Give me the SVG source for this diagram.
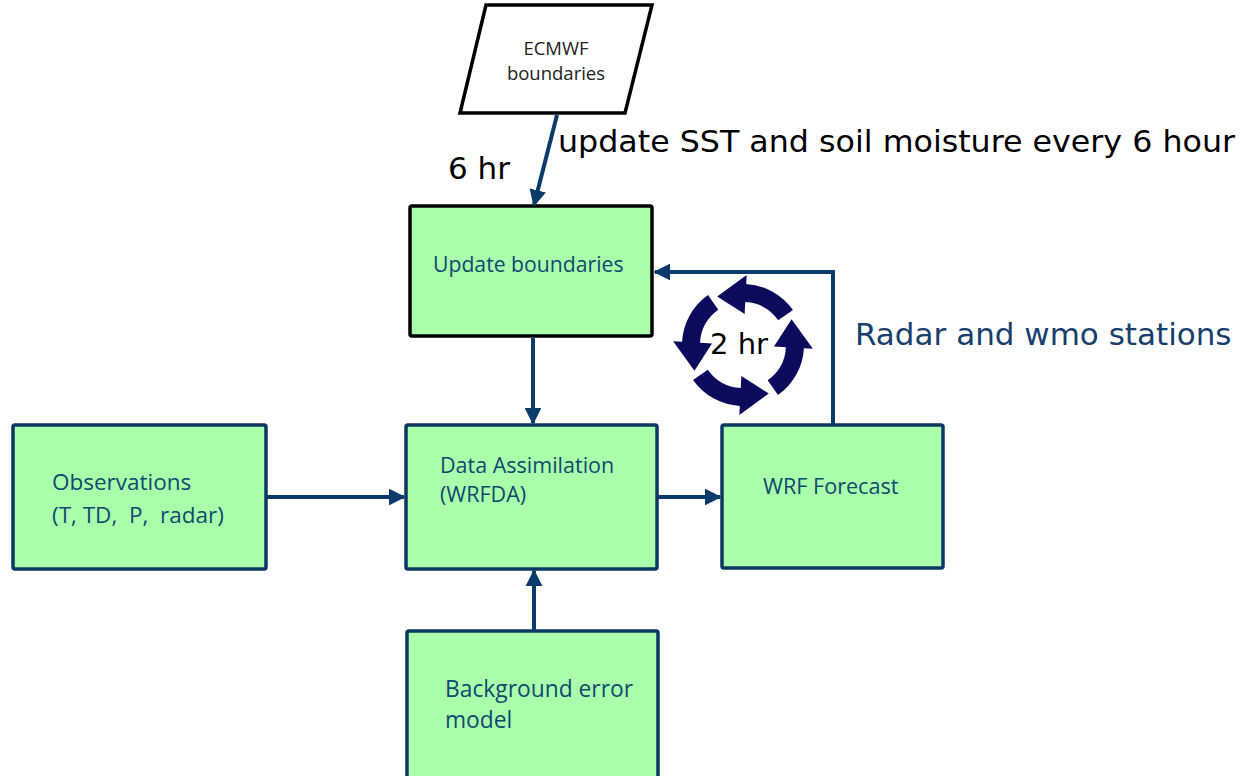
<svg xmlns="http://www.w3.org/2000/svg" xmlns:xlink="http://www.w3.org/1999/xlink" width="1247" height="776" viewBox="0 0 1247 776">
<style>
.box{fill:#aaffaa;stroke:#0c3763;stroke-width:3.5;}
.boxk{fill:#aaffaa;stroke:#000;stroke-width:3.5;}
.bt{font-family:"Open Sans","Noto Sans",sans-serif;fill:#104a70;}
.big{font-family:"DejaVu Sans",sans-serif;font-size:31px;}
.con{stroke:#0a3b6b;stroke-width:4;fill:none;}
</style>
<defs>
<marker id="ah" viewBox="0 0 10 10" refX="9" refY="5" markerWidth="4.2" markerHeight="4.2" orient="auto" markerUnits="strokeWidth">
<path d="M0,0 L10,5 L0,10 Z" fill="#0a3b6b"/>
</marker>
<path id="carrow" fill="#0b0b5e" d="M777.99,394.97 A61,61 0 0 0 803.92,348.19 L812.90,348.66 L791.56,319.18 L773.96,346.62 L785.94,347.25 A43,43 0 0 1 767.66,380.23 Z"/>
</defs>

<g id="ecmwf">
<polygon points="486,5 652,5 625,113 460,113" fill="#fff" stroke="#000" stroke-width="3.5" stroke-linejoin="miter"/>
<text x="556" y="55" text-anchor="middle" font-family="Open Sans, sans-serif" font-size="18.5" fill="#222">ECMWF</text>
<text x="556" y="80" text-anchor="middle" font-family="Open Sans, sans-serif" font-size="18.5" fill="#222">boundaries</text>
</g>

<g id="update">
<rect class="boxk" x="410" y="206" width="242" height="130" rx="2"/>
<text class="bt" x="433" y="272" font-size="21.2">Update boundaries</text>
</g>

<g id="da">
<rect class="box" x="406" y="425" width="251" height="144" rx="2"/>
<text class="bt" x="440" y="473" font-size="21.5">Data Assimilation</text>
<text class="bt" x="440" y="502" font-size="21.5">(WRFDA)</text>
</g>

<g id="obs">
<rect class="box" x="13" y="425" width="253" height="144" rx="2"/>
<text class="bt" x="52" y="490" font-size="22.5">Observations</text>
<text class="bt" x="52" y="523" font-size="22.5" xml:space="preserve">(T, TD,  P,  radar)</text>
</g>

<g id="wrf">
<rect class="box" x="722" y="425" width="221" height="143" rx="2"/>
<text class="bt" x="763" y="494" font-size="21.6">WRF Forecast</text>
</g>

<g id="bg">
<rect class="box" x="407" y="631" width="251" height="150" rx="2"/>
<text class="bt" x="445" y="697" font-size="22.8">Background error</text>
<text class="bt" x="445" y="728" font-size="22.8">model</text>
</g>

<g id="connectors">
<line class="con" x1="557" y1="115" x2="534" y2="205" marker-end="url(#ah)"/>
<line class="con" x1="533" y1="338" x2="533" y2="423" marker-end="url(#ah)"/>
<line class="con" x1="267" y1="497" x2="404" y2="497" marker-end="url(#ah)"/>
<line class="con" x1="658" y1="497" x2="720" y2="497" marker-end="url(#ah)"/>
<line class="con" x1="534" y1="630" x2="534" y2="571" marker-end="url(#ah)"/>
<polyline class="con" points="833,424 833,272 655,272" marker-end="url(#ah)"/>
</g>

<g id="cycle">
<use xlink:href="#carrow"/>
<use xlink:href="#carrow" transform="rotate(-90 743 345)"/>
<use xlink:href="#carrow" transform="rotate(-180 743 345)"/>
<use xlink:href="#carrow" transform="rotate(-270 743 345)"/>
<text x="739" y="354" text-anchor="middle" font-family="DejaVu Sans, sans-serif" font-size="29" fill="#000">2 hr</text>
</g>

<g id="labels">
<text class="big" x="558" y="152" fill="#000" textLength="677" lengthAdjust="spacingAndGlyphs">update SST and soil moisture every 6 hour</text>
<text class="big" x="448" y="179" fill="#000">6 hr</text>
<text class="big" x="855" y="345" fill="#17406d">Radar and wmo stations</text>
</g>
</svg>
